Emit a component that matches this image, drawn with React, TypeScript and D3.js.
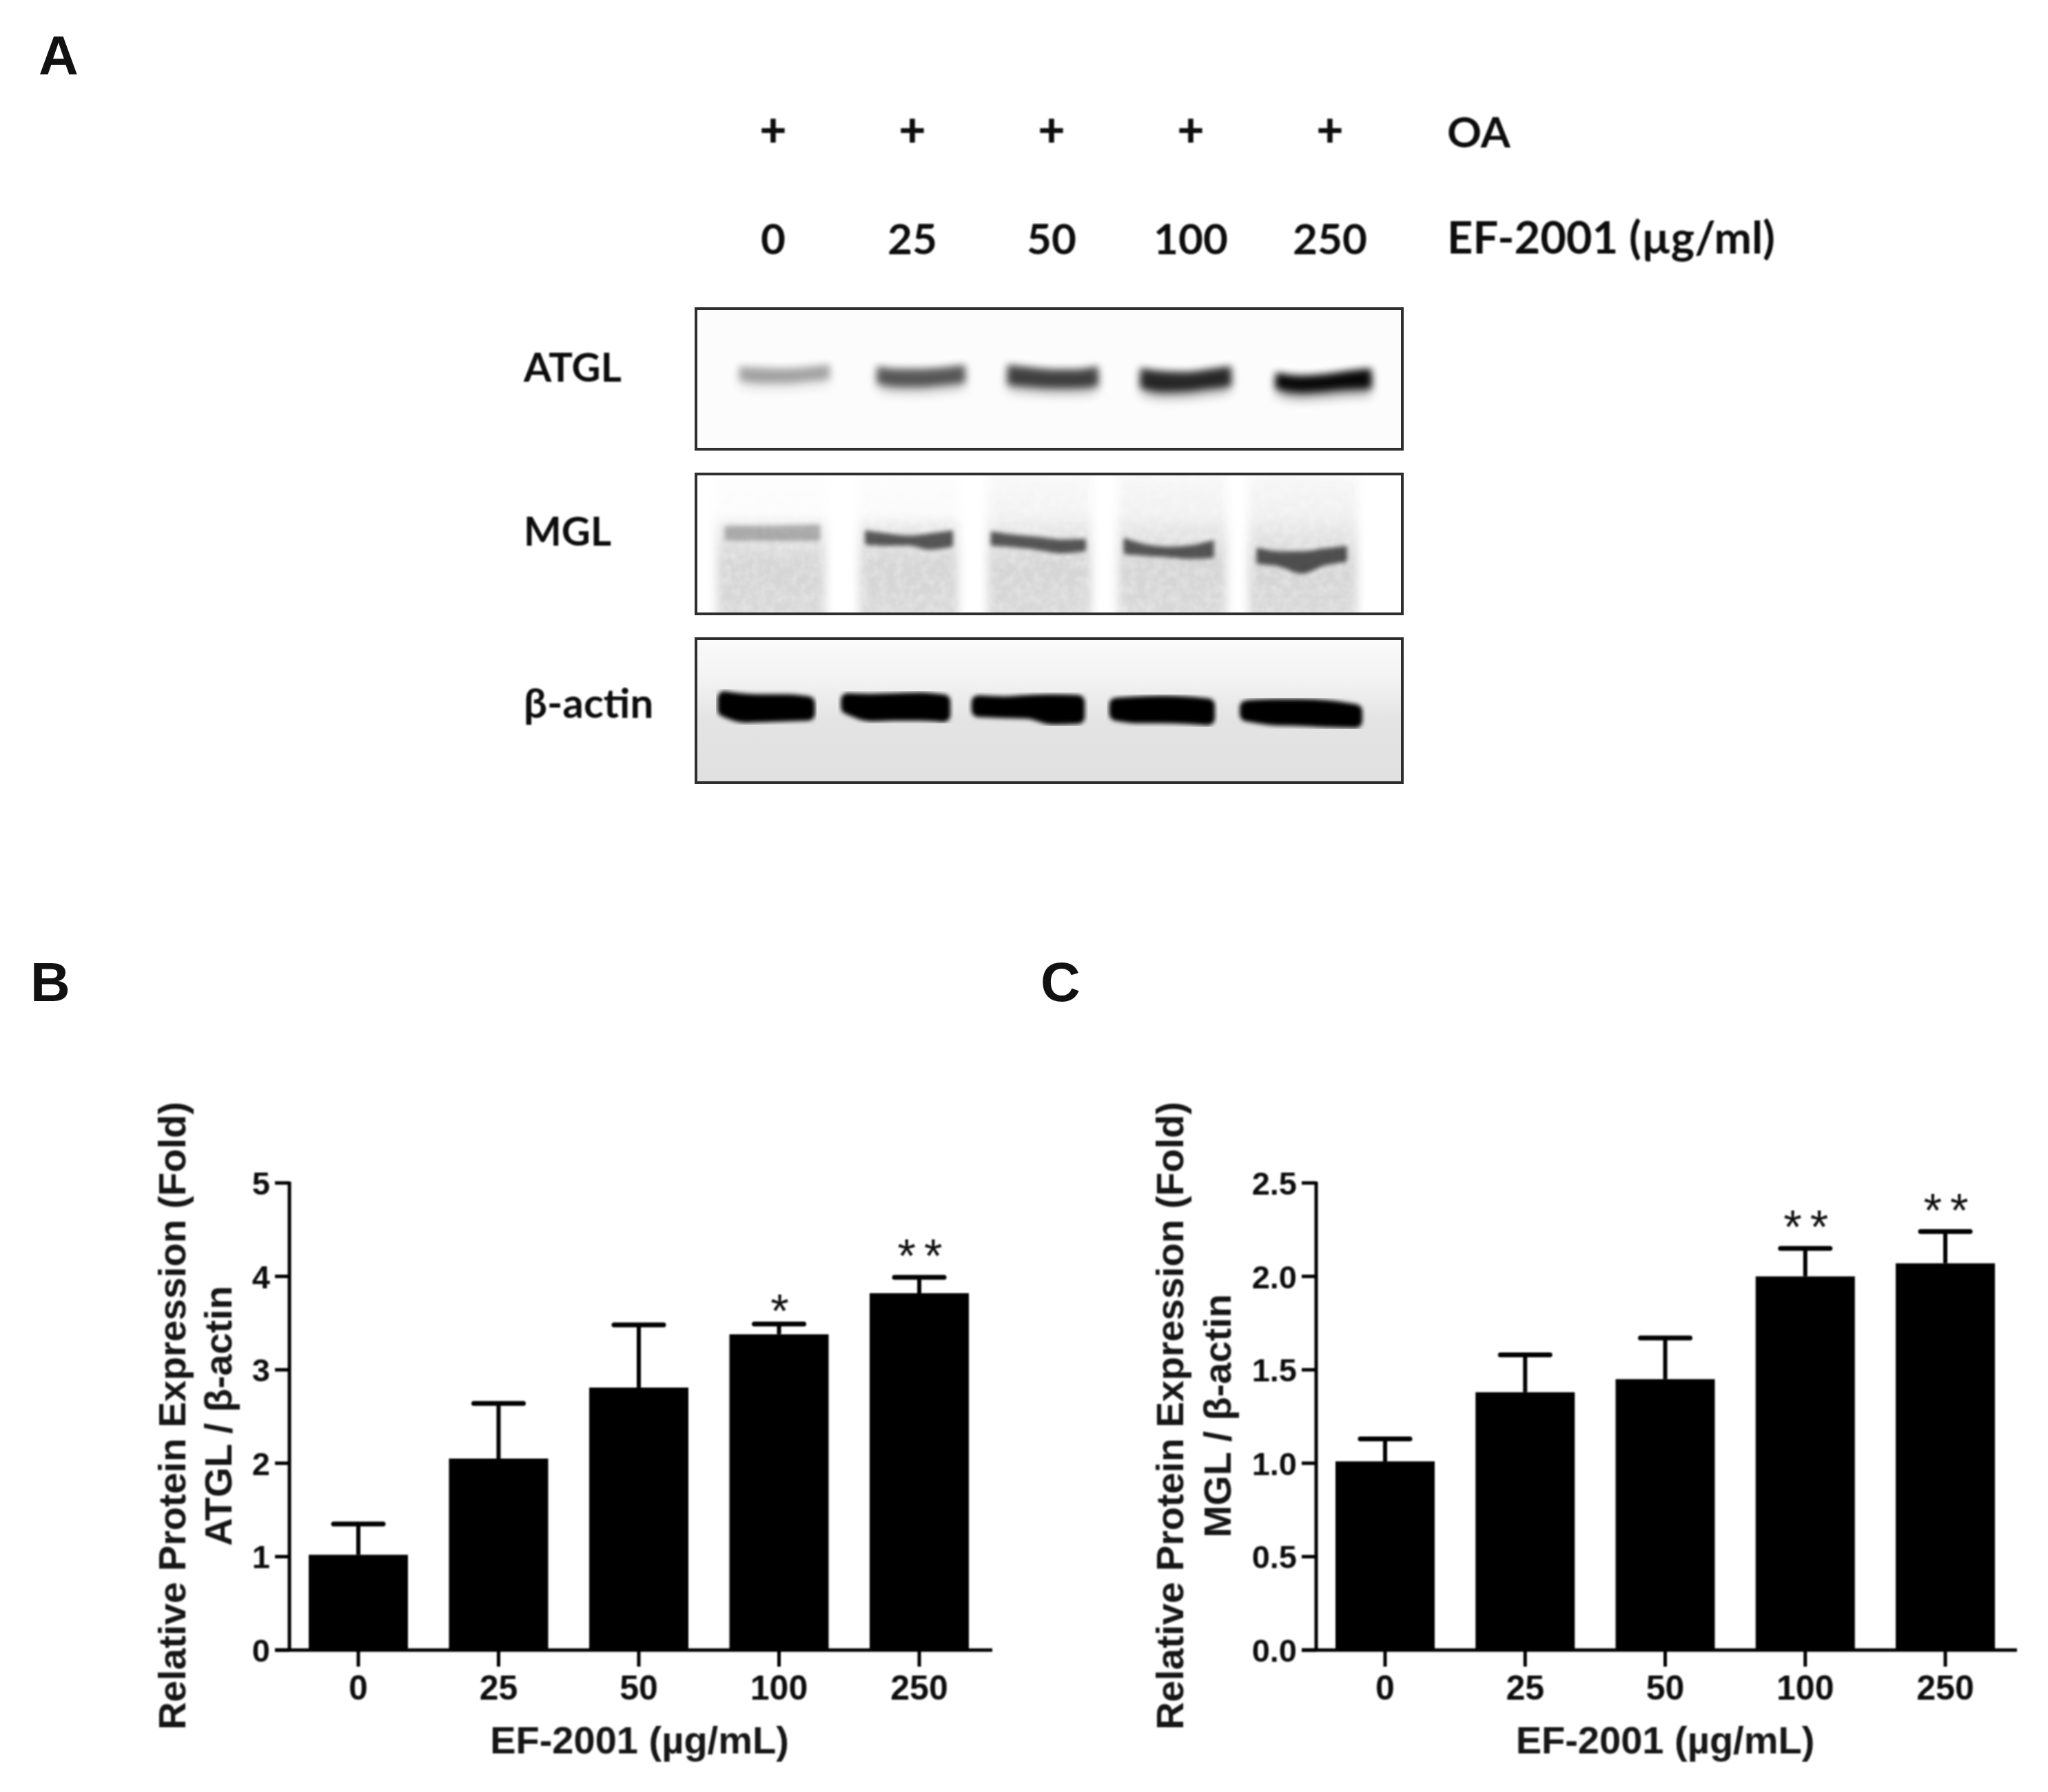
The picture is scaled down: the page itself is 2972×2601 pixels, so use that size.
import React from "react";
import * as d3 from "d3";

const W = 2972, H = 2601;
const doses = ["0", "25", "50", "100", "250"];
const atglMean = [1.02, 2.05, 2.81, 3.38, 3.82];
const atglTop = [1.35, 2.64, 3.48, 3.49, 3.99];
const atglStars = ["", "", "", "*", "**"];
const mglMean = [1.01, 1.38, 1.45, 2.0, 2.07];
const mglTop = [1.13, 1.58, 1.67, 2.15, 2.24];
const mglStars = ["", "", "", "**", "**"];
const bTicks = [0, 1, 2, 3, 4, 5];
const cTicks = [0, 0.5, 1, 1.5, 2, 2.5];

// Blot readings, in gel units
const atglLeft = [125, 410, 680, 955, 1235];
const atglRight = [325, 605, 880, 1155, 1445];
const atglUpper = [[232, 236, 238, 234, 226], [232, 240, 240, 236, 228], [228, 236, 242, 242, 232], [238, 248, 250, 242, 232], [252, 262, 258, 248, 240]];
const atglLower = [[275, 282, 282, 276, 270], [284, 294, 294, 288, 282], [288, 294, 298, 298, 292], [298, 310, 308, 300, 292], [300, 312, 308, 302, 300]];
const atglGrey = [0.3, 0.6, 0.7, 0.82, 1];
const mglLaneLeft = [85, 380, 645, 915, 1185];
const mglLaneRight = [310, 585, 860, 1140, 1410];
const mglLaneFade = [0.2, 0.3, 0.8, 0.95, 1];
const mglLeft = [100, 390, 650, 925, 1200];
const mglRight = [300, 575, 850, 1115, 1390];
const mglUpper = [[722, 722, 722, 720, 718], [737, 746, 752, 746, 737], [740, 750, 756, 764, 762], [760, 780, 786, 782, 767], [790, 800, 800, 792, 784]];
const mglLower = [[758, 758, 758, 758, 758], [770, 773, 772, 785, 776], [773, 778, 786, 796, 790], [798, 804, 808, 813, 810], [828, 836, 858, 833, 823]];
const mglGrey = [0.26, 0.62, 0.62, 0.62, 0.64];
const actinLeft = [85, 340, 610, 895, 1165];
const actinRight = [290, 570, 848, 1117, 1422];
const actinUpper = [[1240, 1248, 1250, 1250, 1256], [1246, 1248, 1246, 1244, 1250], [1253, 1256, 1252, 1250, 1252], [1260, 1256, 1254, 1256, 1262], [1268, 1264, 1264, 1268, 1280]];
const actinLower = [[1276, 1294, 1292, 1290, 1288], [1268, 1290, 1288, 1288, 1292], [1277, 1280, 1282, 1300, 1298], [1288, 1296, 1296, 1298, 1302], [1290, 1302, 1304, 1308, 1310]];

const gelX = d3.scaleLinear().domain([42, 1503]).range([1010, 2035]);
const rowY = (a: number, b: number, c: number, d: number) => d3.scaleLinear().domain([a, b]).range([c, d]);
const atglY = rowY(58, 485, 448, 652);
const mglY = rowY(560, 985, 688, 891);
const actinY = rowY(1060, 1497, 927, 1136);
const lanePos = d3.scalePoint<string>().domain(doses).range([1122, 1930]);

const sans = "'Liberation Sans', Arial, sans-serif";
const head = "Lato, Carlito, sans-serif";

function bandPath(l: number, r: number, up: number[], low: number[], y: d3.ScaleLinear<number, number>, inset = 0) {
  const xs = d3.scaleLinear().domain([0, up.length - 1]).range([l + inset, r - inset]);
  return d3.area<number>()
    .x((_, i) => gelX(xs(i)))
    .y0((_, i) => y(up[i]))
    .y1((_, i) => y(low[i]))
    .curve(d3.curveMonotoneX)(up) as string;
}

function BarPanel(p: {
  axisX: number; first: number; last: number; axisEnd: number;
  means: number[]; tops: number[]; stars: string[]; ticks: number[]; max: number; fmt: (v: number) => string; sub: string; t1: number; t2: number;
}) {
  const y = d3.scaleLinear().domain([0, p.max]).range([2395, 1717]);
  const x = d3.scalePoint<string>().domain(doses).range([p.first, p.last]);
  const titleX = (p.axisX + p.axisEnd) / 2 - 2;
  return (
    <g fontFamily={sans} fontWeight={700} fill="#111" filter="url(#soft)">
      {doses.map((d, i) => {
        const cx = x(d) as number;
        const many = p.stars[i].length > 1;
        return (
          <g key={d}>
            <rect x={cx - 72} y={y(p.means[i])} width={144} height={y(0) - y(p.means[i])} fill="#000" />
            <line x1={cx} x2={cx} y1={y(p.means[i])} y2={y(p.tops[i])} stroke="#000" strokeWidth={6} />
            <line x1={cx - 36} x2={cx + 36} y1={y(p.tops[i])} y2={y(p.tops[i])} stroke="#000" strokeWidth={7} strokeLinecap="round" />
            <line x1={cx} x2={cx} y1={y(0)} y2={y(0) + 24} stroke="#000" strokeWidth={5} />
            <text x={cx} y={2449} dy="0.36em" textAnchor="middle" fontSize={50}>{d}</text>
            {p.stars[i] && (
              <text x={cx + (many ? 7 : 1)} y={y(p.tops[i]) + (many ? -8 : 4)} textAnchor="middle" fontSize={68} fontWeight={400} letterSpacing={many ? 12 : 0}>
                {p.stars[i]}
              </text>
            )}
          </g>
        );
      })}
      <line x1={p.axisX} x2={p.axisX} y1={y(p.max) - 2} y2={y(0)} stroke="#000" strokeWidth={5} />
      <line x1={p.axisX - 21} x2={p.axisEnd} y1={y(0)} y2={y(0)} stroke="#000" strokeWidth={5} />
      {p.ticks.map((t) => (
        <g key={t}>
          <line x1={p.axisX - 21} x2={p.axisX} y1={y(t)} y2={y(t)} stroke="#000" strokeWidth={5} />
          <text x={p.axisX - 28} y={y(t)} dy="0.36em" textAnchor="end" fontSize={47}>{p.fmt(t)}</text>
        </g>
      ))}
      <text x={titleX} y={2525} dy="0.36em" textAnchor="middle" fontSize={56} fill="#161616">EF-2001 (µg/mL)</text>
      <text transform={`translate(${p.t1},2055) rotate(-90)`} dy="0.36em" textAnchor="middle" fontSize={56} fill="#161616">Relative Protein Expression (Fold)</text>
      <text transform={`translate(${p.t2},2055) rotate(-90)`} dy="0.36em" textAnchor="middle" fontSize={56} fill="#161616">{p.sub}</text>
    </g>
  );
}

export default function App() {
  return (
    <svg width={W} height={H} viewBox={`0 0 ${W} ${H}`} style={{ position: "absolute", left: 0, top: 0, background: "#fff" }}>
      <defs>
        <filter id="soft" x="-5%" y="-5%" width="110%" height="110%"><feGaussianBlur stdDeviation="0.9" /></filter>
        <filter id="b2" x="-10%" y="-50%" width="120%" height="200%"><feGaussianBlur stdDeviation="3" /></filter>
        <filter id="b5" x="-20%" y="-60%" width="140%" height="220%"><feGaussianBlur stdDeviation="5.5" /></filter>
        <filter id="b8" x="-20%" y="-60%" width="140%" height="220%"><feGaussianBlur stdDeviation="8" /></filter>
        <filter id="grain" x="-10%" y="-10%" width="120%" height="120%">
          <feGaussianBlur in="SourceGraphic" stdDeviation="7" result="soft" />
          <feTurbulence type="fractalNoise" baseFrequency="0.08" numOctaves="2" seed="4" result="n" />
          <feColorMatrix in="n" type="matrix" values="0 0 0 0 1  0 0 0 0 1  0 0 0 0 1  0.55 0 0 0 -0.2" result="a" />
          <feComposite in="a" in2="soft" operator="in" result="g" />
          <feMerge><feMergeNode in="soft" /><feMergeNode in="g" /></feMerge>
        </filter>
        <linearGradient id="lane" x1="0" x2="0" y1="0" y2="1">
          <stop offset="0" stopColor="#f8f8f8" />
          <stop offset="0.3" stopColor="#efefef" />
          <stop offset="0.5" stopColor="#dedede" />
          <stop offset="0.62" stopColor="#d5d5d5" />
          <stop offset="1" stopColor="#dadada" />
        </linearGradient>
        <linearGradient id="actinBg" x1="0" x2="0" y1="0" y2="1">
          <stop offset="0" stopColor="#fbfbfb" />
          <stop offset="0.3" stopColor="#f2f2f2" />
          <stop offset="0.55" stopColor="#e4e4e4" />
          <stop offset="1" stopColor="#e0e0e0" />
        </linearGradient>
        <clipPath id="c1"><rect x={1010} y={448} width={1025} height={204} /></clipPath>
        <clipPath id="c2"><rect x={1010} y={688} width={1025} height={203} /></clipPath>
        <clipPath id="c3"><rect x={1010} y={927} width={1025} height={209} /></clipPath>
      </defs>

      {/* panel letters */}
      <g fontFamily={sans} fontWeight={700} fontSize={80} fill="#111">
        <text x={56} y={108}>A</text>
        <text x={44} y={1453}>B</text>
        <text x={1510} y={1453}>C</text>
      </g>

      {/* header */}
      <g fontFamily={head} fontWeight={700} fontSize={62} fill="#111" filter="url(#soft)">
        {doses.map((d) => (
          <g key={d}>
            <text x={lanePos(d)} y={190} dy="0.34em" textAnchor="middle" fontWeight={900} fontSize={68}>+</text>
            <text x={lanePos(d)} y={347} dy="0.36em" textAnchor="middle">{d}</text>
          </g>
        ))}
        <text x={2100} y={192} dy="0.36em">OA</text>
        <text x={2100} y={345} dy="0.36em" fontSize={65}>EF-2001 (µg/ml)</text>
        <text x={760} y={533} dy="0.36em" fontSize={58}>ATGL</text>
        <text x={760} y={771} dy="0.36em" fontSize={58}>MGL</text>
        <text x={760} y={1020} dy="0.36em" fontSize={60}>β-actin</text>
      </g>

      {/* ATGL blot */}
      <rect x={1010} y={448} width={1025} height={204} fill="#fcfcfc" />
      <g clipPath="url(#c1)">
        {doses.map((d, i) => (
          <g key={d}>
            <path d={bandPath(atglLeft[i], atglRight[i], atglUpper[i].map((v) => v + 14), atglLower[i].map((v) => v + 20), atglY, 8)} fill="#000" opacity={atglGrey[i] * 0.4} filter="url(#b8)" />
            <path d={bandPath(atglLeft[i], atglRight[i], atglUpper[i], atglLower[i], atglY, 6)} fill="#000" opacity={atglGrey[i] * 0.95} filter="url(#b5)" />
          </g>
        ))}
      </g>
      <rect x={1010} y={448} width={1025} height={204} fill="none" stroke="#2e2e2e" strokeWidth={4} />

      {/* MGL blot */}
      <rect x={1010} y={688} width={1025} height={203} fill="#fff" />
      <g clipPath="url(#c2)">
        {doses.map((d, i) => (
          <rect key={d} x={gelX(mglLaneLeft[i])} y={mglY(540)} width={gelX(mglLaneRight[i]) - gelX(mglLaneLeft[i])} height={mglY(1020) - mglY(540)} fill="url(#lane)" filter="url(#grain)" />
        ))}
        {doses.map((d, i) => (
          <rect key={d} x={gelX(mglLaneLeft[i]) - 14} y={mglY(540)} width={gelX(mglLaneRight[i]) - gelX(mglLaneLeft[i]) + 28} height={mglY(700) - mglY(540)} fill="#fff" opacity={1 - mglLaneFade[i] * 0.9} filter="url(#b8)" />
        ))}
        {doses.map((d, i) => (
          <path key={d} d={bandPath(mglLeft[i], mglRight[i], mglUpper[i], mglLower[i], mglY, 5)} fill="#000" stroke="#000" strokeWidth={5} strokeLinejoin="round" opacity={mglGrey[i]} filter="url(#b2)" />
        ))}
      </g>
      <rect x={1010} y={688} width={1025} height={203} fill="none" stroke="#2e2e2e" strokeWidth={4} />

      {/* actin blot */}
      <rect x={1010} y={927} width={1025} height={209} fill="url(#actinBg)" />
      <g clipPath="url(#c3)">
        {doses.map((d, i) => (
          <path key={d} d={bandPath(actinLeft[i], actinRight[i], actinUpper[i], actinLower[i], actinY, 16)} fill="#000" stroke="#000" strokeWidth={20} strokeLinejoin="round" filter="url(#b2)" />
        ))}
      </g>
      <rect x={1010} y={927} width={1025} height={209} fill="none" stroke="#2e2e2e" strokeWidth={4} />

      <BarPanel axisX={420} first={520} last={1334} axisEnd={1440} means={atglMean} tops={atglTop} stars={atglStars} ticks={bTicks} max={5} fmt={(v) => d3.format("d")(v)} sub="ATGL / β-actin" t1={249} t2={316} />
      <BarPanel axisX={1910} first={2010} last={2823} axisEnd={2927} means={mglMean} tops={mglTop} stars={mglStars} ticks={cTicks} max={2.5} fmt={(v) => d3.format(".1f")(v)} sub="MGL / β-actin" t1={1697} t2={1766} />
    </svg>
  );
}
